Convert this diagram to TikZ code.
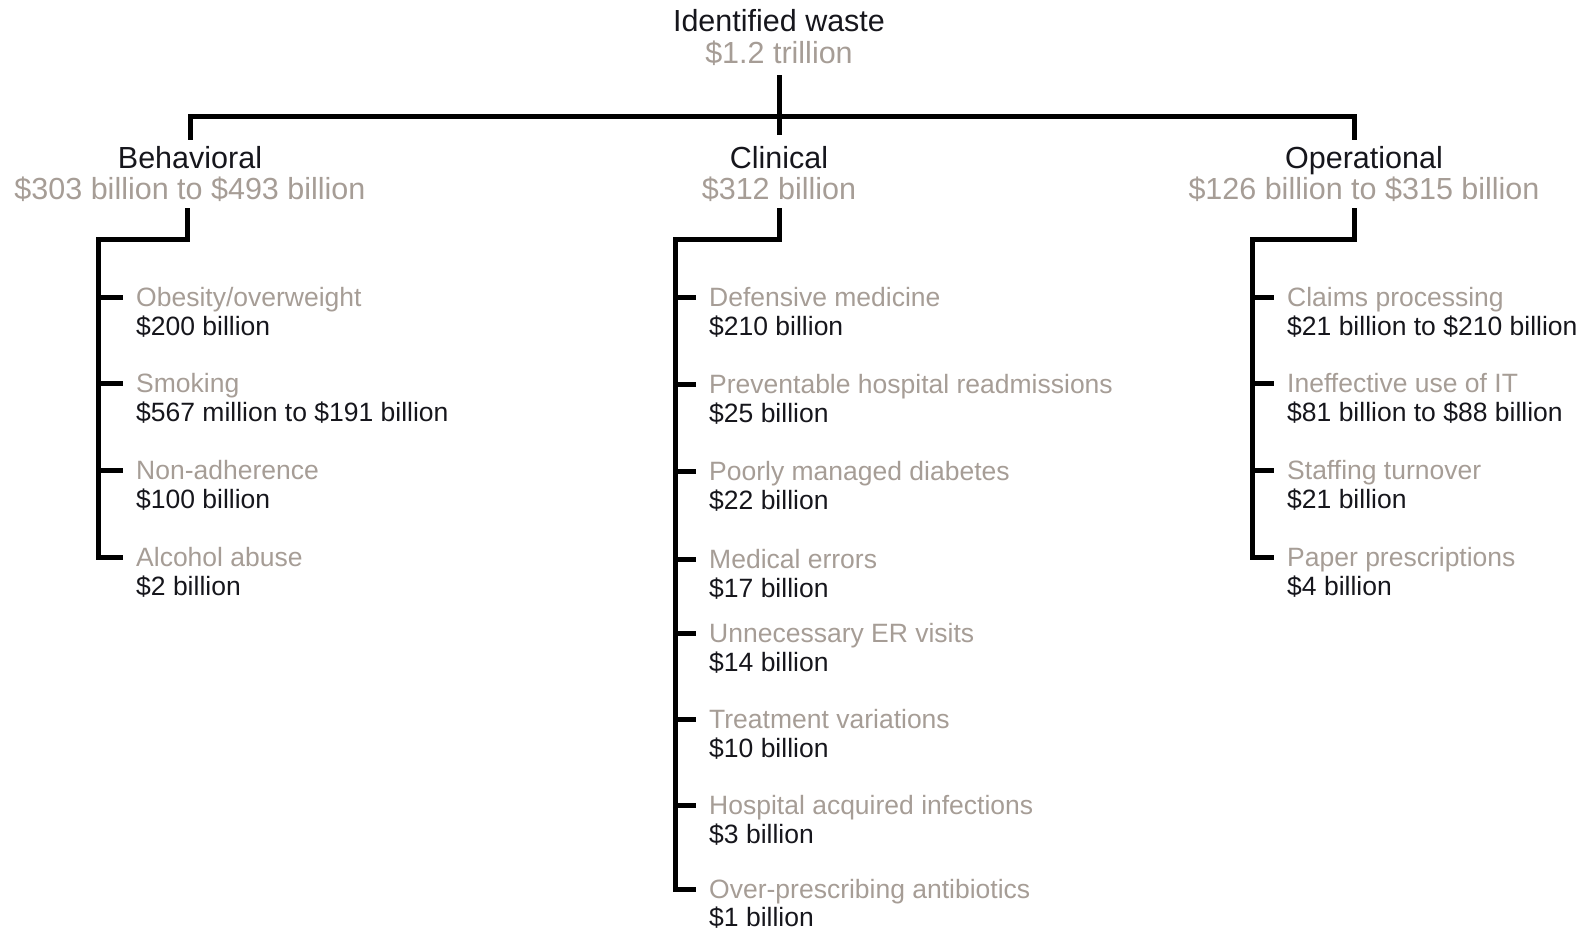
\documentclass[tikz,border=0pt]{standalone}
\usepackage{fontspec}
\setmainfont{Liberation Sans}
\usetikzlibrary{positioning}
\definecolor{wastegray}{RGB}{166,157,150}
\definecolor{wasteink}{RGB}{22,22,28}
\begin{document}
\begin{tikzpicture}[x=1pt, y=-1pt,
      cat/.style={anchor=base, text=wasteink, font=\fontsize{30.5}{32}\selectfont, text height=22pt, text depth=0pt, inner xsep=0pt, inner ysep=7pt},
      catval/.style={cat, text=wastegray, inner ysep=8pt},
      item/.style={anchor=west, text=wastegray, font=\fontsize{26.5}{28}\selectfont, text height=19pt, text depth=0pt, inner sep=0pt},
      itemval/.style={item, text=wasteink},
      tree/.style={draw, line width=5pt},
      tick/.style={tree, shorten >=13pt}
      ]
    \useasboundingbox (0,0) rectangle (1578,933);

    % top level
    \node [cat] (root) at (779, 32) {Identified waste};
    \node [catval] (rootval) at (779, 64) {\$1.2 trillion};

    \node [cat] (beh) at (190, 169) {Behavioral};
    \node [catval] (behval) at (190, 200) {\$303 billion to \$493 billion};
    \node [cat] (cli) at (779, 169) {Clinical};
    \node [catval] (clival) at (779, 200) {\$312 billion};
    \node [cat] (ope) at (1364, 169) {Operational};
    \node [catval] (opeval) at (1364, 200) {\$126 billion to \$315 billion};

    \coordinate (bus) at (779, 117);
    \path [tree] ([yshift=-3pt]rootval.south) -- ([yshift=5pt]cli.north);
    \path [tree] (beh.north) |- (bus) -| ([xshift=-10pt]ope.north);

    % behavioral
    \node [item] (b1) at (136, 297) {Obesity/overweight};
    \node [itemval, below=29pt of b1.west, anchor=west] (b1v) {\$200 billion};
    \node [item] (b2) at (136, 383) {Smoking};
    \node [itemval, below=29pt of b2.west, anchor=west] (b2v) {\$567 million to \$191 billion};
    \node [item] (b3) at (136, 470) {Non-adherence};
    \node [itemval, below=29pt of b3.west, anchor=west] (b3v) {\$100 billion};
    \node [item] (b4) at (136, 557) {Alcohol abuse};
    \node [itemval, below=29pt of b4.west, anchor=west] (b4v) {\$2 billion};

    \coordinate (bk) at (98, 240);
    \path [tick] ([xshift=-3pt]behval.south) |- (bk) |- (b4.west);
    \foreach \i in {1,2,3}
      \path [tick] (b\i.west -| bk) -- (b\i.west);

    % clinical
    \node [item] (c1) at (709, 297) {Defensive medicine};
    \node [itemval, below=29pt of c1.west, anchor=west] (c1v) {\$210 billion};
    \node [item] (c2) at (709, 384) {Preventable hospital readmissions};
    \node [itemval, below=29pt of c2.west, anchor=west] (c2v) {\$25 billion};
    \node [item] (c3) at (709, 471) {Poorly managed diabetes};
    \node [itemval, below=29pt of c3.west, anchor=west] (c3v) {\$22 billion};
    \node [item] (c4) at (709, 559) {Medical errors};
    \node [itemval, below=29pt of c4.west, anchor=west] (c4v) {\$17 billion};
    \node [item] (c5) at (709, 633) {Unnecessary ER visits};
    \node [itemval, below=29pt of c5.west, anchor=west] (c5v) {\$14 billion};
    \node [item] (c6) at (709, 719) {Treatment variations};
    \node [itemval, below=29pt of c6.west, anchor=west] (c6v) {\$10 billion};
    \node [item] (c7) at (709, 805) {Hospital acquired infections};
    \node [itemval, below=29pt of c7.west, anchor=west] (c7v) {\$3 billion};
    \node [item] (c8) at (709, 889) {Over-prescribing antibiotics};
    \node [itemval, below=28pt of c8.west, anchor=west] (c8v) {\$1 billion};

    \coordinate (ck) at (675, 240);
    \path [tick] (clival.south) |- (ck) |- (c8.west);
    \foreach \i in {1,...,7}
      \path [tick] (c\i.west -| ck) -- (c\i.west);

    % operational
    \node [item] (o1) at (1287, 297) {Claims processing};
    \node [itemval, below=29pt of o1.west, anchor=west] (o1v) {\$21 billion to \$210 billion};
    \node [item] (o2) at (1287, 383) {Ineffective use of IT};
    \node [itemval, below=29pt of o2.west, anchor=west] (o2v) {\$81 billion to \$88 billion};
    \node [item] (o3) at (1287, 470) {Staffing turnover};
    \node [itemval, below=29pt of o3.west, anchor=west] (o3v) {\$21 billion};
    \node [item] (o4) at (1287, 557) {Paper prescriptions};
    \node [itemval, below=29pt of o4.west, anchor=west] (o4v) {\$4 billion};

    \coordinate (ok) at (1252, 240);
    \path [tick] ([xshift=-10pt]opeval.south) |- (ok) |- (o4.west);
    \foreach \i in {1,2,3}
      \path [tick] (o\i.west -| ok) -- (o\i.west);
  \end{tikzpicture}
\end{document}
